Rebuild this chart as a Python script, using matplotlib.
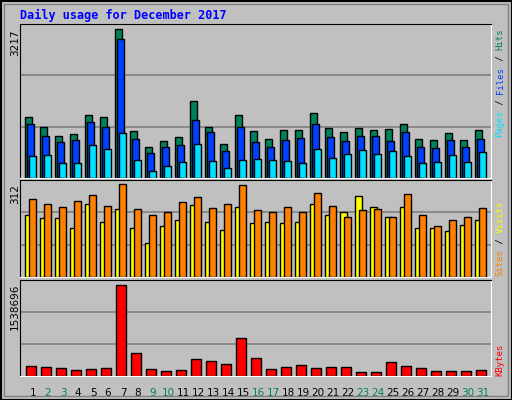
import numpy as np
import matplotlib
matplotlib.use("Agg")
import matplotlib.pyplot as plt
from matplotlib.patches import Rectangle

days = list(range(1, 32))
weekend = [2, 3, 9, 10, 16, 17, 23, 24, 30, 31]
hits = [1316, 1098, 901, 945, 1359, 1316, 3217, 1011, 662, 792, 880, 1665, 1098, 727, 1359, 1011,
        836, 1032, 1032, 1403, 1076, 989, 1076, 1032, 1054, 1163, 836, 814, 967, 814, 1032]
files = [1163, 901, 771, 814, 1207, 1098, 2995, 836, 531, 662, 705, 1250, 989, 574, 1098, 771,
         662, 814, 858, 1163, 880, 792, 901, 901, 792, 989, 662, 640, 814, 662, 836]
pages = [465, 487, 313, 313, 705, 618, 967, 378, 160, 269, 334, 727, 356, 225, 378, 400,
         378, 356, 313, 618, 422, 509, 596, 509, 574, 465, 313, 334, 487, 334, 553]
sites = [207, 198, 198, 163, 247, 186, 227, 163, 115, 170, 190, 241, 186, 159, 234, 180,
         186, 183, 186, 244, 207, 217, 271, 234, 203, 234, 166, 163, 156, 176, 190]
visits = [261, 244, 234, 254, 275, 237, 312, 227, 210, 217, 251, 268, 231, 244, 308, 224,
          217, 234, 217, 281, 237, 203, 224, 227, 200, 278, 210, 173, 190, 203, 231]
kbytes = [174000, 157000, 140000, 107000, 124000, 140000, 1538696, 393000, 124000, 90000, 107000,
          292000, 258000, 208000, 646000, 309000, 124000, 157000, 191000, 140000, 157000, 157000,
          73000, 73000, 241000, 174000, 140000, 90000, 90000, 90000, 107000]

W, H = 512, 400
fig = plt.figure(figsize=(W / 100, H / 100), dpi=100)
fig.patch.set_facecolor("#C0C0C0")
mono = "DejaVu Sans Mono"

# outer border / bevel
fig.add_artist(Rectangle((0.5 / W, 0.5 / H), 1 - 1 / W, 1 - 1 / H, transform=fig.transFigure,
                         fill=False, ec="black", lw=1.5))
fig.add_artist(Rectangle((4 / W, 4 / H), 1 - 8 / W, 1 - 8 / H, transform=fig.transFigure,
                         fill=False, ec="#808080", lw=1))


def panel(top, bottom, ymax):
    ax = fig.add_axes([20 / W, 1 - bottom / H, 471 / W, (bottom - top) / H])
    ax.set_facecolor("#C0C0C0")
    ax.set_xlim(0, 471 / 15)
    ax.set_ylim(0, ymax)
    for y in (ymax / 3, 2 * ymax / 3):
        ax.axhline(y, color="#808080", lw=1.2, zorder=0)
    ax.set_xticks([])
    ax.set_yticks([])
    for s in ("left", "top"):
        ax.spines[s].set_color("black")
    for s in ("right", "bottom"):
        ax.spines[s].set_color("white")
    return ax


x = np.array(days) - 1 + 0.353
bw = 7 / 15

ax1 = panel(24, 178, 3318)
ax1.bar(x, hits, width=bw, align="edge", color="#00805C", ec="black", lw=1)
ax1.bar(x + 2 / 15, files, width=bw, align="edge", color="#0040FF", ec="black", lw=1)
ax1.bar(x + 4 / 15, pages, width=bw, align="edge", color="#00E0FF", ec="black", lw=1)

ax2 = panel(180, 277, 326)
ax2.bar(x, sites, width=bw, align="edge", color="#FFFF00", ec="black", lw=1)
ax2.bar(x + 4 / 15, visits, width=bw, align="edge", color="#FF8000", ec="black", lw=1)

ax3 = panel(280, 376, 1616000)
ax3.bar(x + 1 / 15, kbytes, width=10 / 15, align="edge", color="#FF0000", ec="black", lw=1)

for d in days:
    c = "#00805C" if d in weekend else "black"
    ax3.text(d - 1 + 0.867, -0.12, str(d), transform=ax3.get_xaxis_transform(), ha="center",
             va="top", fontsize=7.5, color=c, family="DejaVu Sans")

fig.text(20 / W, 1 - 15 / H, "Daily usage for December 2017", color="#0000FF", fontsize=8.5,
         fontweight="bold", family=mono, va="center")

for txt, ytop in (("3217", 30), ("312", 184), ("1538696", 284)):
    fig.text(15 / W, 1 - ytop / H, txt, rotation=90, ha="center", va="top", fontsize=7.5,
             family="DejaVu Sans")


def side(parts, ybottom):
    # monospace: advance each piece by its character count
    y = ybottom
    for t, c in parts:
        fig.text(500 / W, 1 - y / H, t, rotation=90, ha="center", va="bottom", color=c,
                 fontsize=6.5, family=mono)
        y -= 5.43 * len(t)


side([("Pages", "#00E0FF"), (" / ", "black"), ("Files", "#0040FF"), (" / ", "black"),
      ("Hits", "#00805C")], 137)
side([("Sites", "#FF8000"), (" / ", "black"), ("Visits", "#FFFF00")], 276)
side([("KBytes", "#FF0000")], 376)

fig.savefig("out.png", dpi=100, facecolor=fig.get_facecolor())
